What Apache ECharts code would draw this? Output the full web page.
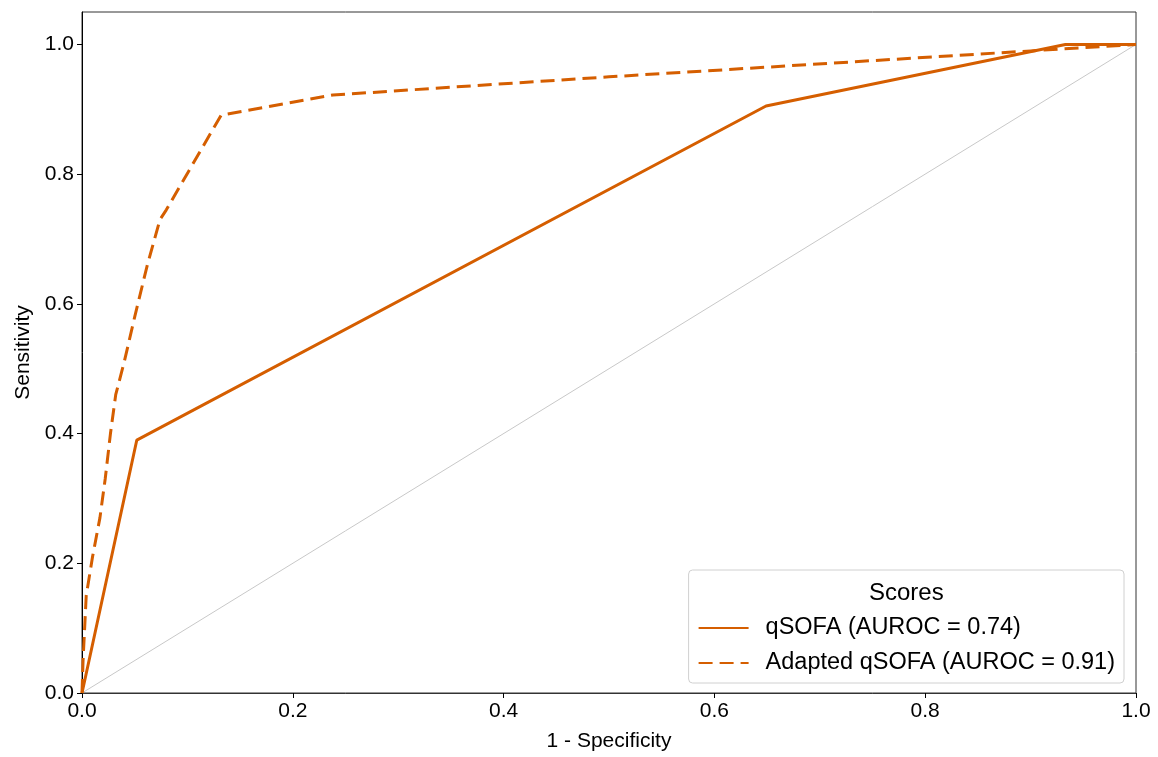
<!DOCTYPE html>
<html>
<head>
<meta charset="utf-8">
<script src="https://cdn.jsdelivr.net/npm/echarts@6/dist/echarts.min.js"></script>
<style>
  html, body { margin: 0; padding: 0; background: #fff; }
  #chart { width: 1158px; height: 757px; }
</style>
</head>
<body>
<div id="chart"></div>
<script>
// ROC points: [1 - specificity, sensitivity]
var qsofa = [[0, 0], [0.052, 0.39], [0.649, 0.905], [0.933, 1.0], [1.0, 1.0]]
var adaptedQsofa = [
  [0, 0], [0.001, 0.05], [0.004, 0.15], [0.01, 0.21], [0.017, 0.27],
  [0.022, 0.33], [0.027, 0.40], [0.032, 0.46], [0.04, 0.51], [0.05, 0.58],
  [0.062, 0.66], [0.074, 0.73], [0.08, 0.745], [0.132, 0.891], [0.238, 0.922],
  [0.5, 0.95], [0.9, 0.99], [1.0, 1.0]
]
var chance = [[0, 0], [1, 1]]
var tickValues = [0, 0.2, 0.4, 0.6, 0.8, 1.0]
var seriesNames = ['qSOFA (AUROC = 0.74)', 'Adapted qSOFA (AUROC = 0.91)']

var font = '"Liberation Sans", Arial, sans-serif'
var orange = '#d55e00'

var chart = echarts.init(document.getElementById('chart'))

var option = {
  animation: false,
  backgroundColor: '#fff',
  grid: {
    left: 82, right: 22, top: 12, bottom: 62,
    show: true, borderColor: '#333', borderWidth: 1
  },
  xAxis: {
    type: 'value', min: 0, max: 1, interval: 0.2,
    name: '1 - Specificity', nameLocation: 'middle', nameGap: 38,
    nameTextStyle: { fontFamily: font, fontSize: 21, color: '#000' },
    axisLine: { show: true, onZero: false, lineStyle: { color: '#333', width: 1 } },
    axisTick: { show: true, length: 5, lineStyle: { color: '#000' } },
    axisLabel: {
      fontFamily: font, fontSize: 21, color: '#000', margin: 8,
      formatter: function (v) { return v.toFixed(1) }
    },
    splitLine: { show: false }
  },
  yAxis: {
    type: 'value', min: 0, max: 1.05,
    name: 'Sensitivity', nameLocation: 'middle', nameGap: 48,
    nameTextStyle: { fontFamily: font, fontSize: 21, color: '#000' },
    axisLine: { show: true, onZero: false, lineStyle: { color: '#000', width: 1 } },
    axisTick: { show: true, length: 5, customValues: tickValues, lineStyle: { color: '#000' } },
    axisLabel: {
      fontFamily: font, fontSize: 21, color: '#000', margin: 8,
      customValues: tickValues,
      formatter: function (v) { return v.toFixed(1) }
    },
    splitLine: { show: false }
  },
  legend: {
    data: seriesNames,
    orient: 'vertical',
    right: 34, bottom: 74,
    padding: [46, 9, 8, 9],
    itemWidth: 50, itemHeight: 14, itemGap: 11,
    itemStyle: { opacity: 0, borderWidth: 0 },
    backgroundColor: 'rgba(255,255,255,0.85)',
    borderColor: '#d0d0d0', borderWidth: 1, borderRadius: 4,
    textStyle: { fontFamily: font, fontSize: 23.5, color: '#000', padding: [0, 0, 0, 12] },
    z: 10
  },
  graphic: [{
    type: 'text',
    z: 100,
    left: 869, top: 581,
    style: { text: 'Scores', font: '24px ' + font, fill: '#000' }
  }],
  series: [
    {
      name: 'chance', type: 'line', data: chance, symbol: 'none', silent: true,
      lineStyle: { color: '#c8c8c8', width: 1 }, z: 1
    },
    {
      name: seriesNames[0], type: 'line', data: qsofa, symbol: 'none',
      color: orange,
      lineStyle: { color: orange, width: 3 }, z: 3
    },
    {
      name: seriesNames[1], type: 'line', data: adaptedQsofa, symbol: 'none',
      color: orange,
      lineStyle: { color: orange, width: 3, type: [14, 7] }, z: 3
    }
  ]
}

chart.setOption(option)
</script>
</body>
</html>
